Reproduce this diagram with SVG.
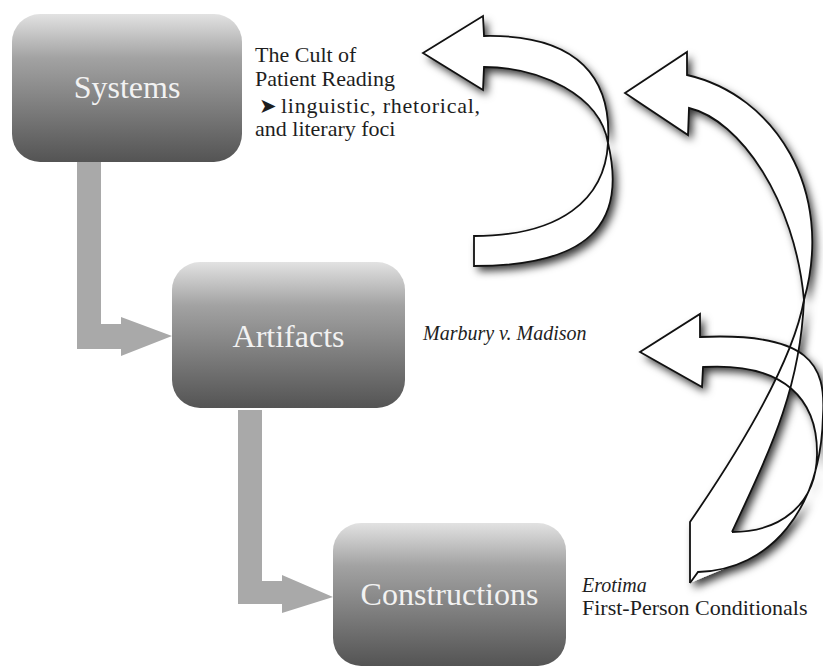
<svg xmlns="http://www.w3.org/2000/svg" width="823" height="667" viewBox="0 0 823 667">
  <defs>
    <linearGradient id="boxGrad" x1="0" y1="0" x2="0" y2="1">
      <stop offset="0" stop-color="#e2e2e2"/>
      <stop offset="0.3" stop-color="#a2a2a2"/>
      <stop offset="1" stop-color="#545454"/>
    </linearGradient>
    <filter id="shadow" x="-20%" y="-20%" width="140%" height="140%">
      <feDropShadow dx="4" dy="5" stdDeviation="4" flood-color="#000" flood-opacity="0.8"/>
    </filter>
    <style>
      .box { fill: url(#boxGrad); }
      .label { font-family: "Liberation Serif", "Times New Roman", serif; font-size: 32px; fill: #f2f2f2; text-anchor: middle; }
      .note { font-family: "Liberation Serif", "Times New Roman", serif; font-size: 22px; fill: #1e1e1e; }
      .it { font-style: italic; font-size: 20px; }
      .conn { fill: #a9a9a9; }
      .afill { fill: #ffffff; stroke: none; fill-rule: nonzero; }
      .aline { fill: none; stroke: #111; stroke-width: 1.8; stroke-linejoin: miter; }
    </style>
  </defs>
  <rect width="823" height="667" fill="#ffffff"/>

  <g id="connectors">
    <polygon class="conn" points="77,162 101,162 101,324 121,324 121,317 172,336 121,356 121,349 77,349"/>
    <polygon class="conn" points="238,410 262,410 262,581 282,581 282,575 333,597 282,613 282,604 238,604"/>
  </g>

  <g id="systems">
    <rect class="box" x="12" y="14" width="230" height="148" rx="28" ry="28"/>
    <text class="label" x="127" y="98">Systems</text>
  </g>
  <g id="artifacts">
    <rect class="box" x="172" y="262" width="233" height="146" rx="28" ry="28"/>
    <text class="label" x="288.5" y="347">Artifacts</text>
  </g>
  <g id="constructions">
    <rect class="box" x="333" y="523" width="233" height="143" rx="28" ry="28"/>
    <text class="label" x="449.5" y="605">Constructions</text>
  </g>

  <g id="notes">
    <text class="note" x="255" y="62">The Cult of</text>
    <text class="note" x="255" y="86">Patient Reading</text>
    <text class="note" x="259" y="113" style="font-family:'DejaVu Sans',sans-serif;font-size:21px">➤</text>
    <text class="note" x="281" y="113" textLength="199" lengthAdjust="spacing">linguistic, rhetorical,</text>
    <text class="note" x="255" y="136">and literary foci</text>
    <text class="note it" x="423" y="340">Marbury v. Madison</text>
    <text class="note it" x="582" y="592">Erotima</text>
    <text class="note" x="582" y="615">First-Person Conditionals</text>
  </g>

  <g id="feedback-arrows">
    <g filter="url(#shadow)">
      <path class="afill" d="M423,53 L483,16 L484,36 C580,34 612,80 608,143 C625,215 600,266 474,266 L474,236 C560,236 605,200 608,143 C600,95 540,67 484,67 L483,90 Z"/>
      <path class="afill" d="M625,93 L687,52 L687,75 C775,95 835,190 804,300 C795,200 740,120 689,108 L688,135 Z"/>
      <path class="afill" d="M804,300 C800,390 770,450 732,532 L745,560 L690,583 L690,522 C760,420 795,350 804,300 Z M640,352 L700,314 L700,337 C810,332 826,365 823,415 C821,510 770,570 698,572 L690,583 L732,532 C780,532 816,505 817,455 C818,400 785,362 703,367 L702,387 Z"/>
    </g>
    <path class="aline" d="M423,53 L483,16 L484,36 C580,34 612,80 608,143 C625,215 600,266 474,266 L474,236 C560,236 605,200 608,143 C600,95 540,67 484,67 L483,90 Z"/>
    <path class="aline" d="M625,93 L687,52 L687,75 C775,95 835,190 804,300 C795,200 740,120 689,108 L688,135 Z"/>
    <path class="aline" d="M804,300 C795,350 760,420 690,522 L690,583"/>
    <path class="aline" d="M732,532 C770,450 800,390 804,300"/>
    <path class="aline" d="M690,583 L698,572 C770,570 821,510 823,415 C826,365 810,332 700,337 L700,314 L640,352 L702,387 L703,367 C785,362 818,400 817,455 C816,505 780,532 732,532"/>
  </g>
</svg>
